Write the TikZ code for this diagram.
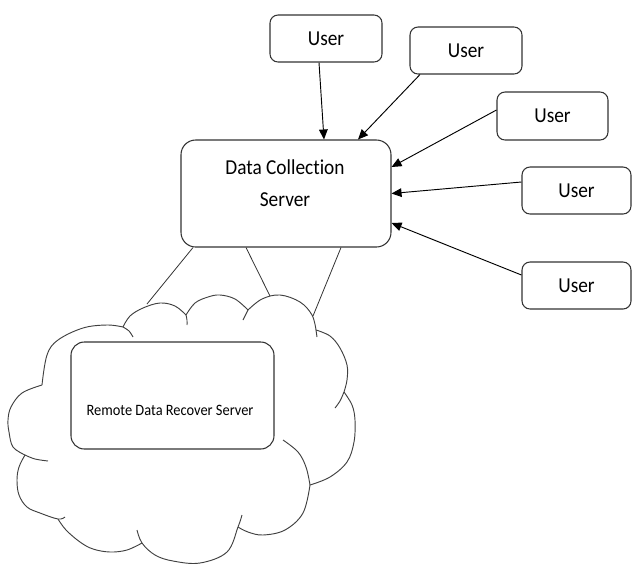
\documentclass[tikz,border=0pt]{standalone}
\usepackage{fontspec}
\setmainfont{Carlito}[Ligatures={NoCommon,NoRare,NoContextual}]
\usetikzlibrary{calc,arrows.meta}
\newcommand{\tallt}[1]{\scalebox{1}[1.1]{#1}}
\begin{document}
\begin{tikzpicture}[x=0.75pt,y=-0.75pt,
  box/.style={draw=black!80, line width=0.8pt, fill=white, inner sep=0pt},
  userbox/.style={box, rounded corners=6pt, minimum width=84pt, minimum height=35.25pt, font=\fontsize{14.5}{17}\selectfont},
  bigbox/.style={box, rounded corners=11pt},
  arr/.style={-{Triangle[length=7.5pt,width=6.5pt]}, line width=0.7pt, black},
  link/.style={line width=0.6pt, black!80},
  bump/.style={line width=0.7pt, black!75}
]
\useasboundingbox (0,0) rectangle (632,565);

% cloud
\draw[bump] plot[smooth, tension=0.6] coordinates {(25,455) (13,447) (9,432) (8,420) (11,407) (22,393) (42,385)};
\draw[bump] plot[smooth, tension=0.6] coordinates {(25,455) (35,459) (48,461)};
\draw[bump] plot[smooth, tension=0.6] coordinates {(42,385) (47,355) (58,340) (83,328) (107,325) (123,327)};
\draw[bump] plot[smooth, tension=0.6] coordinates {(123,327) (129,331) (133,337)};
\draw[bump] plot[smooth, tension=0.6] coordinates {(123,327) (130,316) (143,308) (160,303) (175,306) (186,315)};
\draw[bump] plot[smooth, tension=0.6] coordinates {(186,315) (187,320) (187,325)};
\draw[bump] plot[smooth, tension=0.6] coordinates {(186,315) (195,303) (208,297) (220,295) (235,299) (248,310)};
\draw[bump] plot[smooth, tension=0.6] coordinates {(248,310) (245,316) (243,320)};
\draw[bump] plot[smooth, tension=0.6] coordinates {(248,310) (262,299) (280,295) (300,302) (312,315) (316,330)};
\draw[bump] plot[smooth, tension=0.6] coordinates {(316,330) (317,337)};
\draw[bump] plot[smooth, tension=0.6] coordinates {(316,330) (330,336) (340,348) (347,365) (347,380) (344,392)};
\draw[bump] plot[smooth, tension=0.6] coordinates {(344,392) (340,401) (335,408)};
\draw[bump] plot[smooth, tension=0.6] coordinates {(344,392) (352,405) (355,420) (354,442) (347,462) (330,477) (310,485)};
\draw[bump] plot[smooth, tension=0.6] coordinates {(283,440) (298,452) (306,467) (310,485)};
\draw[bump] plot[smooth, tension=0.6] coordinates {(310,485) (303,513) (285,530) (263,535) (248,532) (238,527)};
\draw[bump] plot[smooth, tension=0.6] coordinates {(242,515) (238,527) (227,552) (200,563) (173,561) (155,555) (142,543) (137,530)};
\draw[bump] plot[smooth, tension=0.6] coordinates {(142,543) (127,550) (110,552) (93,549) (80,542) (66,530) (58,519)};
\draw[bump] plot[smooth, tension=0.6] coordinates {(65,517) (58,519) (40,513) (27,507) (19,495) (17,480) (19,467) (25,455)};

\coordinate (c1) at (147,304);
\coordinate (c2) at (270,296);
\coordinate (c3) at (313,316);

% boxes
\node[bigbox, minimum width=157.5pt, minimum height=80.25pt] (dcs) at (286,193.5) {};
\node[font=\fontsize{14.5}{24}\selectfont, align=center] (dcst) at (285,183) {\tallt{Data Collection}\\\tallt{Server}};

\node[bigbox, rounded corners=10pt, minimum width=152.25pt, minimum height=80.25pt] (rdrs) at (172.5,395.5) {};
\node[font=\fontsize{10.8}{13}\selectfont] (rdrst) at (170,410) {\tallt{Remote Data Recover Server}};

\node[userbox] (u1) at (326,38.5) {\tallt{User}};
\node[userbox] (u2) at (466,50.5) {\tallt{User}};
\node[userbox, minimum width=83.25pt, minimum height=36pt] (u3) at (552.5,116) {\tallt{User}};
\node[userbox, minimum width=81.75pt] (u4) at (576.5,190.5) {\tallt{User}};
\node[userbox, minimum width=81.75pt] (u5) at (576.5,285.5) {\tallt{User}};

% arrows
\draw[arr] ($(u1.south)+(-7,0)$) -- ($(dcs.north)+(38,0)$);
\draw[arr] ($(u2.south)+(-46,0)$) -- ($(dcs.north)+(72,0)$);
\draw[arr] ($(u3.west)+(0,-6)$) -- ($(dcs.east)+(0,-26.5)$);
\draw[arr] ($(u4.west)+(0,-8.5)$) -- (dcs.east);
\draw[arr] ($(u5.west)+(0,-10.5)$) -- ($(dcs.east)+(0,29.5)$);

% links to cloud
\draw[link] ($(dcs.south)+(-93,0)$) -- (c1);
\draw[link] ($(dcs.south)+(-40,0)$) -- (c2);
\draw[link] ($(dcs.south)+(55,0)$) -- (c3);
\end{tikzpicture}
\end{document}
